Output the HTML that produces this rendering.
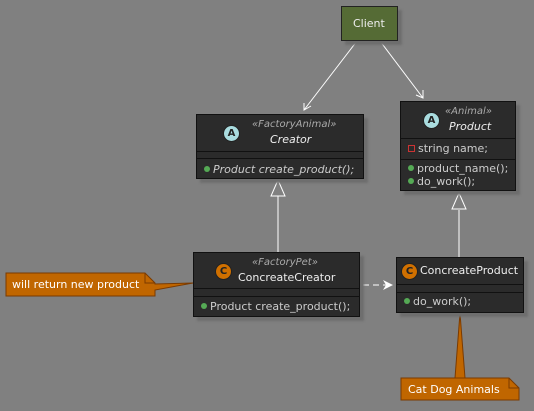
<!DOCTYPE html>
<html><head><style>
body{margin:0;width:534px;height:411px;background:#808080;position:relative;overflow:hidden;font-family:"DejaVu Sans","Liberation Sans",sans-serif;color:#eee}
.b{position:absolute;background:#2b2b2b;border:1px solid #111;box-shadow:4px 4px 2px #6e6e6e;box-sizing:border-box}
.sep{position:absolute;left:0;right:0;height:1px;background:#111}
.t{position:absolute;font-size:11px;white-space:nowrap}
.i{font-style:italic}
.st{font-size:10px;font-style:italic;color:#aaa}
.ci{position:absolute;width:15px;height:15px;border-radius:50%;border:1px solid #222;font:bold 10px "DejaVu Sans",sans-serif;text-align:center;line-height:15px;color:#222}
.dot{display:inline-block;width:6px;height:6px;border-radius:50%;background:#5a5;margin-right:3px;vertical-align:1px}
</style></head><body>
<svg width="534" height="411" style="position:absolute;left:0;top:0">
<g stroke="#fff" fill="none" stroke-width="1">
<line x1="357" y1="41" x2="304" y2="110"/><polyline points="304,103 304,110 311,106"/>
<line x1="380" y1="41" x2="423" y2="98"/><polyline points="416,95 423,98 423,90"/>
<line x1="278" y1="196" x2="278" y2="252"/><polygon points="278,180 271,196 285,196"/>
<line x1="459" y1="210" x2="459" y2="257"/><polygon points="459,193 452,209 466,209"/>
<line x1="353" y1="285" x2="390" y2="285" stroke-dasharray="6,4"/>
</g>
<polygon points="393,285 383,280 386,285 383,290" fill="#fff"/>
<polygon points="460,313 455,378 465,378" fill="#c06600" stroke="#7a3a00"/>
<polygon points="6,273 145,273 155,283 155,284 193,283 155,290 155,296 6,296" fill="#c06600" stroke="#7a3a00"/>
<polyline points="145,273 145,283 155,283" fill="none" stroke="#7a3a00"/>
<polygon points="401,378 509,378 519,388 519,400 401,400" fill="#c06600" stroke="#7a3a00"/>
<polyline points="509,378 509,388 519,388" fill="none" stroke="#7a3a00"/>
</svg>
<div class="b" style="left:341px;top:6px;width:57px;height:35px;background:#556b35;border-color:#222"><div class="t" style="left:11px;top:10px">Client</div></div>

<div class="b" style="left:196px;top:114px;width:168px;height:65px">
<div class="ci" style="left:26px;top:10px;background:#a9dcdf">A</div>
<div class="t st" style="left:55px;top:4px">«FactoryAnimal»</div>
<div class="t i" style="left:73px;top:18px">Creator</div>
<div class="sep" style="top:36px"></div><div class="sep" style="top:43px"></div>
<div class="t i" style="left:7px;top:48px;color:#ccc"><span class="dot"></span>Product create_product();</div></div>

<div class="b" style="left:400px;top:101px;width:116px;height:90px">
<div class="ci" style="left:22px;top:10px;background:#a9dcdf">A</div>
<div class="t st" style="left:44px;top:4px">«Animal»</div>
<div class="t i" style="left:48px;top:18px">Product</div>
<div class="sep" style="top:36px"></div>
<div class="t" style="left:7px;top:40px;color:#ccc"><span style="display:inline-block;width:5px;height:5px;border:1px solid #c33;margin-right:3px"></span>string name;</div>
<div class="sep" style="top:57px"></div>
<div class="t" style="left:7px;top:60px;color:#ccc"><span class="dot"></span>product_name();</div>
<div class="t" style="left:7px;top:73px;color:#ccc"><span class="dot"></span>do_work();</div></div>

<div class="b" style="left:193px;top:252px;width:167px;height:65px">
<div class="ci" style="left:21px;top:10px;background:#d07000">C</div>
<div class="t st" style="left:58px;top:4px">«FactoryPet»</div>
<div class="t" style="left:44px;top:18px">ConcreateCreator</div>
<div class="sep" style="top:35px"></div><div class="sep" style="top:43px"></div>
<div class="t" style="left:7px;top:47px;color:#ccc"><span class="dot"></span>Product create_product();</div></div>

<div class="b" style="left:396px;top:257px;width:128px;height:56px">
<div class="ci" style="left:4px;top:5px;background:#d07000">C</div>
<div class="t" style="left:23px;top:6px">ConcreateProduct</div>
<div class="sep" style="top:26px"></div><div class="sep" style="top:34px"></div>
<div class="t" style="left:7px;top:37px;color:#ccc"><span class="dot"></span>do_work();</div></div>

<div class="t" style="left:12px;top:278px;color:#fff">will return new product</div>
<div class="t" style="left:408px;top:383px;color:#fff">Cat Dog Animals</div>
</body></html>
